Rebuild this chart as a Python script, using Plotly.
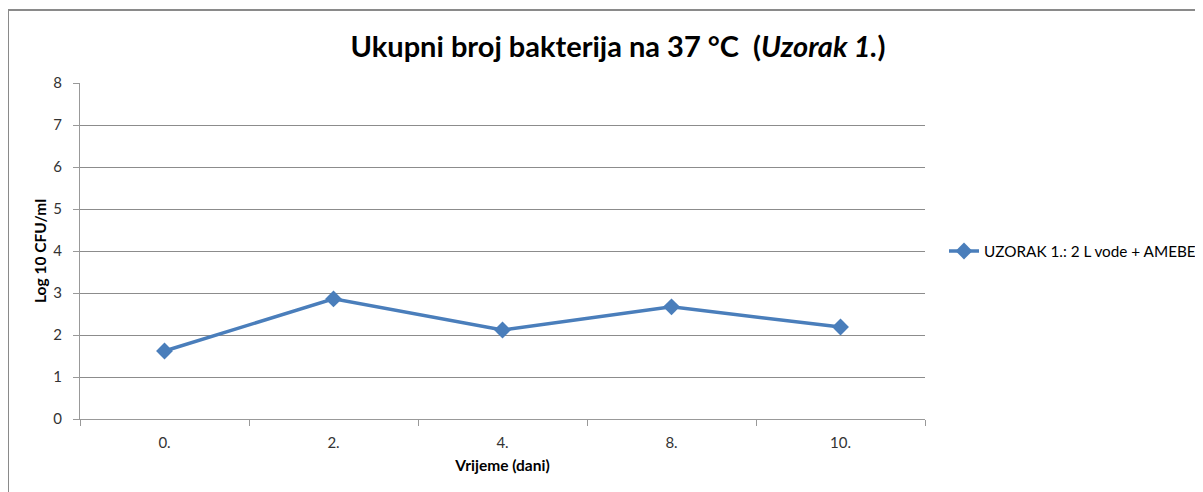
import plotly.graph_objects as go

categories = ["0.", "2.", "4.", "8.", "10."]
values = [1.62, 2.86, 2.12, 2.67, 2.19]
series_name = "UZORAK 1.: 2 L vode + AMEBE"
y_ticks = [0, 1, 2, 3, 4, 5, 6, 7, 8]

FONT = "Lato"
BLUE = "#4A7EBB"

# page body has an 8px offset; compensate in margins
L, T = 72, 75
PW, PH = 845, 336

fig = go.Figure()
fig.add_trace(go.Scatter(
    x=categories, y=values, mode="lines+markers", name=series_name,
    line=dict(color=BLUE, width=3.5),
    marker=dict(symbol="diamond", size=13, color=BLUE),
))

fig.update_layout(
    width=1203, height=492,
    margin=dict(l=L, r=1203 - L - PW, t=T, b=492 - T - PH, autoexpand=False),
    paper_bgcolor="white", plot_bgcolor="white",
    font=dict(family=FONT, color="#333333", size=15),
    title=dict(
        text="<b>Ukupni broj bakterija na 37 °C  (<i>Uzorak 1.</i>)</b>",
        x=610 / 1203, xanchor="center", y=1 - 39 / 492, yanchor="middle",
        font=dict(family=FONT, size=29, color="black"),
    ),
    showlegend=True,
    legend=dict(x=(936 - L) / PW, y=0.5, xanchor="left", yanchor="middle",
                font=dict(family=FONT, size=15.3, color="black"),
                bgcolor="rgba(0,0,0,0)"),
    xaxis=dict(
        type="category", range=[-0.5, len(categories) - 0.5],
        showgrid=False, showline=True, linecolor="#999999", linewidth=1,
        ticks="outside", tickson="boundaries", ticklen=6, tickcolor="#999999",
        tickfont=dict(size=15, color="#333333"), ticklabelstandoff=10,
        title=dict(text="<b>Vrijeme (dani)</b>", font=dict(size=15.5, color="black"), standoff=10),
        zeroline=False, fixedrange=True,
    ),
    yaxis=dict(
        range=[0, 8], tickvals=y_ticks, showgrid=True, gridcolor="#8c8c8c", gridwidth=1,
        showline=True, linecolor="#999999", linewidth=1,
        ticks="outside", ticklen=6, tickcolor="#999999",
        tickfont=dict(size=15, color="#333333"), ticklabelstandoff=8,
        title=dict(text="<b>Log 10 CFU/ml</b>", font=dict(size=15.5, color="black"), standoff=2),
        zeroline=False,
    ),
)

fig.add_shape(type="rect", xref="paper", yref="paper",
              x0=(0 - L) / PW, x1=1.6, y0=-0.5, y1=1 + (T - 2) / PH,
              line=dict(color="#8a8a8a", width=2), layer="below")

fig.write_html("out.html")
